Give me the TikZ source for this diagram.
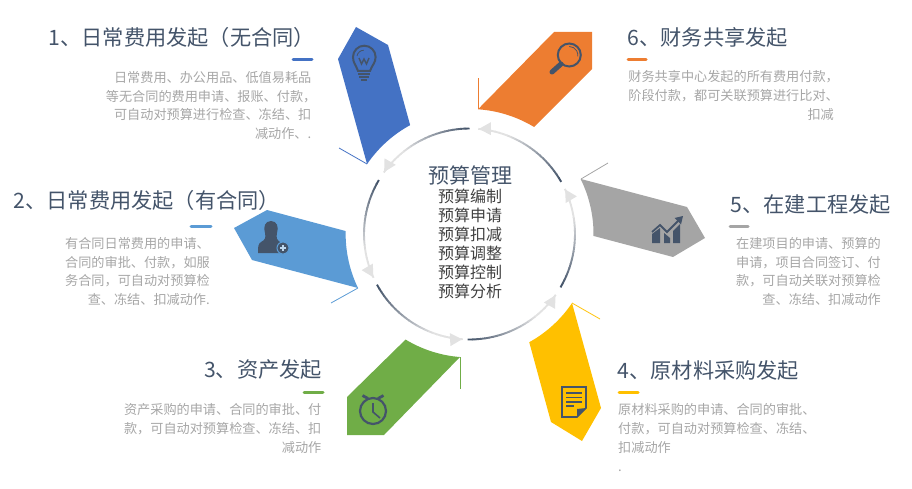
\documentclass[tikz,border=0pt]{standalone}
\usepackage{fontspec}
\setmainfont{Noto Sans CJK SC}
\usetikzlibrary{arrows.meta,calc}

\tikzset{
  titletext/.style={inner sep=0pt,text=icondark,font=\fontsize{21.2}{25}\selectfont},
  bodytext/.style={inner sep=0pt,text=bodygray,font=\fontsize{13.15}{18.7}\selectfont},
  rulebar/.style={line width=3pt,line cap=round},
  leadline/.style={line width=.8pt},
  iconline/.style={draw=icondark,line width=1.6pt},
  iconfill/.style={fill=icondark},
}

\begin{document}
\begin{tikzpicture}[x=1pt,y=-1pt]
    \definecolor{icondark}{HTML}{44546A}
    \definecolor{bodygray}{HTML}{A6A6A6}
    \definecolor{listgray}{HTML}{404040}
    \definecolor{ringlight}{HTML}{E2E2E2}
    \definecolor{blue1}{HTML}{4472C4}
    \definecolor{blue2}{HTML}{5B9BD5}
    \definecolor{green1}{HTML}{70AD47}
    \definecolor{yellow1}{HTML}{FFC000}
    \definecolor{gray1}{HTML}{A5A5A5}
    \definecolor{orange1}{HTML}{ED7D31}

    \useasboundingbox (0,0) rectangle (912,489);
    \coordinate (ringc) at (469.5,234);

    % wedges
    \fill [blue1] (356,27) -- (388,45) -- ($(ringc)+(241.4:124)$) arc[start angle=241.4,end angle=214.3,radius=124] -- (338,59) -- cycle;
    \draw [blue1,leadline] (367,164) -- (339,148);

    \fill [orange1] (554,32) -- (592,32) -- (592,69) -- ($(ringc)+(301.1:125)$) arc[start angle=301.1,end angle=273.9,radius=125] -- cycle;
    \draw [orange1,leadline] (478,109) -- (478,78);

    \fill [gray1] (581,179) -- (687,207) -- (705,238) -- (673,257) -- ($(ringc)+(0.9:124)$) arc[start angle=0.9,end angle=-26.3,radius=124] -- cycle;
    \draw [gray1,leadline] (581,179) -- (608,163);

    \fill [yellow1] (572,303) -- (601,408) -- (582,441) -- (551,422) -- ($(ringc)+(61.1:123.6)$) arc[start angle=61.1,end angle=33.9,radius=123.6] -- cycle;
    \draw [yellow1,leadline] (572,303) -- (600,319);

    \fill [green1] (460,357) -- (384,435) -- (347,435) -- (347,397) -- ($(ringc)+(121.2:123.4)$) arc[start angle=121.2,end angle=94.4,radius=123.4] -- cycle;
    \draw [green1,leadline] (460,357) -- (460,389);

    \fill [blue2] (267,210) -- (234,228) -- (252,260) -- (358,288) arc[start angle=154.2,end angle=181.4,radius=123.9] -- cycle;
    \draw [blue2,leadline] (358,288) -- (331,303);

    % ring
    \foreach \a/\b in {270/216,210.8/155.8,151.3/94,91/35.5,30.4/-25,-29.6/-84.9}{
      \foreach \i in {0,...,23}{
        \pgfmathsetmacro{\u}{\a+(\b-\a)*\i/24}
        \pgfmathsetmacro{\v}{\a+(\b-\a)*(\i+1.15)/24}
        \pgfmathsetmacro{\p}{max(0,100-\i*6)}
        \draw [icondark!\p!ringlight,line width=1.9pt] ($(ringc)+(\u:105.5)$) arc[start angle=\u,end angle=\v,radius=105.5];
      }
      \fill [ringlight] ($(ringc)+(\b:105.5)$) -- ($(ringc)+(\b:105.5)+(\b+84:12)+(\b-6:6.5)$) -- ($(ringc)+(\b:105.5)+(\b+84:12)+(\b+174:6.5)$) -- cycle;
    }

    % centre
    \node (head) [inner sep=0pt,text=icondark,font=\fontsize{21}{25}\selectfont] at (470,175) {预算管理};
    \node (list) [inner sep=0pt,text=listgray,align=center,font=\fontsize{16}{19.1}\selectfont] at (470,244) {预算编制\\预算申请\\预算扣减\\预算调整\\预算控制\\预算分析};

    % titles and texts
    \node (title1) [titletext,anchor=east] at (315,37) {1、日常费用发起（无合同）};
    \draw [blue1,rulebar] (293,60) -- (312,60);
    \node (text1) [bodytext,anchor=east,align=right] at (311.5,105.5) {日常费用、办公用品、低值易耗品\\等无合同的费用申请、报账、付款，\kern-5pt\\可自动对预算进行检查、冻结、扣\\减动作、.};

    \node (title2) [titletext,anchor=east] at (280,200) {2、日常费用发起（有合同）};
    \draw [blue2,rulebar] (191,226) -- (211,226);
    \node (text2) [bodytext,anchor=east,align=right] at (210,271.5) {有合同日常费用的申请、\\合同的审批、付款，如服\\务合同，可自动对预算检\\查、冻结、扣减动作.};

    \node (title3) [titletext,anchor=east] at (322,369) {3、资产发起};
    \draw [green1,rulebar] (304,392) -- (323,392);
    \node (text3) [bodytext,anchor=east,align=right] at (321.5,428.5) {资产采购的申请、合同的审批、付\\款，可自动对预算检查、冻结、扣\\减动作};

    \node (title4) [titletext,anchor=west] at (617.5,370) {4、原材料采购发起};
    \draw [yellow1,rulebar] (619,392) -- (638,392);
    \node (text4) [bodytext,anchor=west,align=left] at (618,437.5) {原材料采购的申请、合同的审批、\\付款，可自动对预算检查、冻结、\\扣减动作\\.};

    \node (title5) [titletext,anchor=west] at (730.5,204) {5、在建工程发起};
    \draw [gray1,rulebar] (730,226) -- (748,226);
    \node (text5) [bodytext,anchor=east,align=right] at (881,271.5) {在建项目的申请、预算的\\申请，项目合同签订、付\\款，可自动关联对预算检\\查、冻结、扣减动作};

    \node (title6) [titletext,anchor=west] at (627.5,37) {6、财务共享发起};
    \draw [orange1,rulebar] (628,60) -- (646,60);
    \node (text6) [bodytext,anchor=east,align=right] at (834,95.5) {财务共享中心发起的所有费用付款，\kern-5pt\\阶段付款，都可关联预算进行比对、\kern-5pt\\扣减};

    % icons
    % bulb
    \draw [iconline,line width=2pt] (358,71) .. controls (356,65) and (353,63) .. (353,57) arc[start angle=180,end angle=360,radius=11.3] .. controls (375.6,63) and (372,65) .. (370,71) -- cycle;
    \draw [iconline,line width=.8pt] (357,56) arc[start angle=190,end angle=270,radius=7];
    \draw [iconline,line width=1.4pt] (359,58) -- (361.5,64) -- (364,59) -- (366.5,64) -- (369,58);
    \draw [iconline,line width=1.8pt] (358,74) -- (370,74) (359,77) -- (369,77) (361,80) -- (367,80);
    % magnifier
    \draw [iconline,line width=2pt] (569.3,55) circle[radius=11.5];
    \draw [iconline,line width=.8pt] (569.3,46.5) arc[start angle=270,end angle=370,radius=8.5];
    \draw [icondark,line width=5pt,line cap=round] (561,64) -- (552,72);
    % chart
    \fill [iconfill] (652,243) -- (652,234) -- (660,228) -- (660,243) -- cycle;
    \fill [iconfill] (664,243) -- (664,233) -- (670,238) -- (670,243) -- cycle;
    \fill [iconfill] (673,243) -- (673,231) -- (680,224) -- (680,243) -- cycle;
    \draw [icondark,line width=1.8pt] (652,232) -- (660,225) -- (667,232) -- (679,220);
    \fill [iconfill] (683,216) -- (681,224.5) -- (674.5,218) -- cycle;
    % document
    \draw [iconline] (586,408) -- (586,387) -- (562,387) -- (562,417) -- (577,417) -- cycle;
    \fill [iconfill] (577,417) -- (577,409) -- (586,408) -- cycle;
    \draw [iconline] (566,393) -- (582,393) (566,397.5) -- (582,397.5) (566,402) -- (582,402) (566,406) -- (574,406);
    % clock
    \draw [iconline,line width=2.2pt] (373,411) circle[radius=13];
    \draw [iconline] (373,403) -- (373,412) -- (380,418);
    \draw [iconline,line width=2.8pt] (362.5,395.5) -- (368,398.5) (383.5,395.5) -- (378,398.5);
    % person
    \fill [iconfill] (271,221) .. controls (265,221) and (263,227) .. (265,233) .. controls (266,238) and (265,240) .. (261,242) .. controls (258,244) and (258,247) .. (258,253) -- (284,253) .. controls (284,247) and (283,244) .. (280,242) .. controls (277,240) and (276,238) .. (277,233) .. controls (279,227) and (277,221) .. (271,221) -- cycle;
    \fill [iconfill,draw=blue2,line width=1pt] (283,248) circle[radius=6];
    \draw [draw=blue2!40!white,line width=1.2pt] (280,248) -- (286,248) (283,245) -- (283,251);
  \end{tikzpicture}
\end{document}
